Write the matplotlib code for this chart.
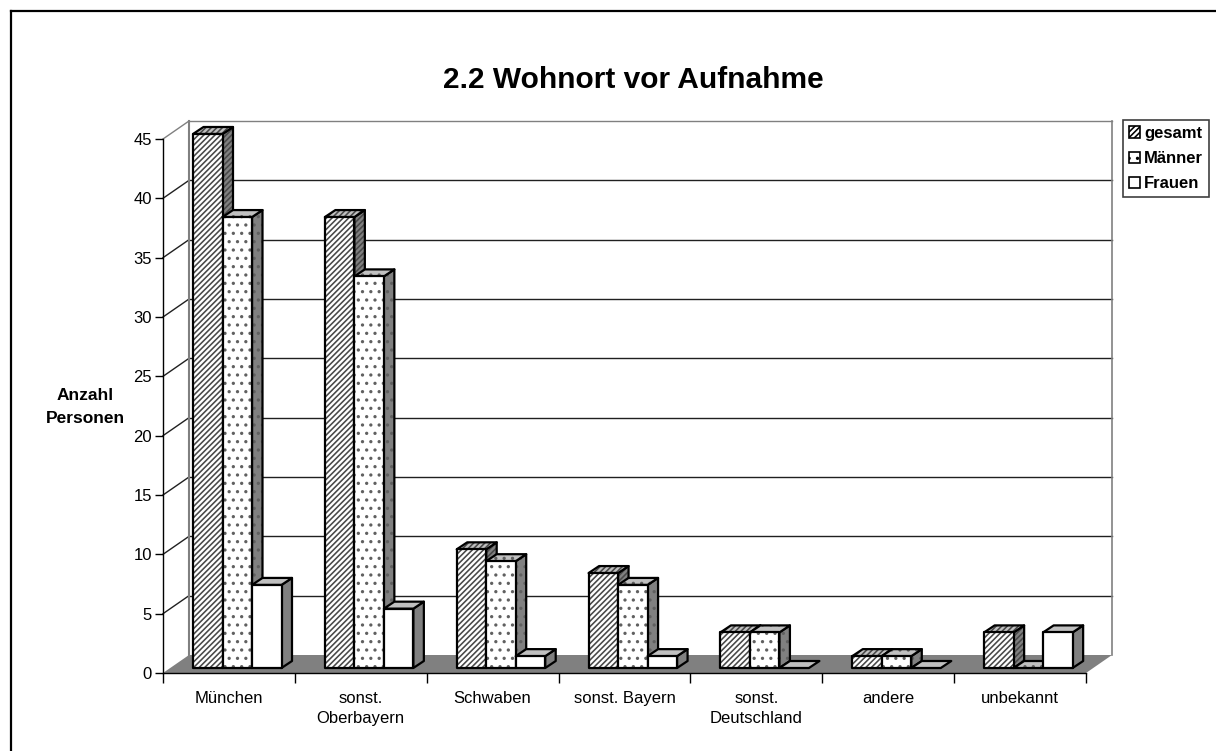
import matplotlib
matplotlib.use("Agg")
import matplotlib.pyplot as plt
from matplotlib.lines import Line2D
from matplotlib.patches import Patch, Polygon

plt.rcParams["font.family"] = ["Liberation Sans", "DejaVu Sans"]
plt.rcParams["hatch.linewidth"] = 1.15

# data
categories = ["München", "sonst.\nOberbayern", "Schwaben", "sonst. Bayern",
              "sonst.\nDeutschland", "andere", "unbekannt"]
gesamt = [45, 38, 10, 8, 3, 1, 3]
maenner = [38, 33, 9, 7, 3, 1, 0]
frauen = [7, 5, 1, 1, 0, 0, 3]
y_ticks = list(range(0, 50, 5))

series = [
    ("gesamt", gesamt, "//////", "#484848"),
    ("Männer", maenner, "..", "#606060"),
    ("Frauen", frauen, None, "black"),
]

fig = plt.figure(figsize=(12.16, 7.51), dpi=100)
W, H = 1216, 751
X0, X1, Y0, Y45 = 163, 1086, 673, 139
ax = fig.add_axes([X0 / W, 1 - Y0 / H, (X1 - X0) / W, (Y0 - Y45) / H])
ax.set_xlim(0, len(categories))
ax.set_ylim(0, 45)
ax.patch.set_visible(False)

# pixel lengths to data units
px_x = len(categories) / (X1 - X0)
px_y = 45 / (Y0 - Y45)

wall_dx, wall_dy = 26 * px_x, 18 * px_y  # depth of the whole chart
bar_dx, bar_dy = 10.5 * px_x, 7 * px_y  # depth of one bar
floor_dx, floor_dy = 7 * px_x, 5 * px_y  # bars stand a bit behind the front edge
bar_w = 29.5 * px_x
group_gap = 23 * px_x

n = len(categories)

# floor
ax.add_patch(Polygon([(0, 0), (n, 0), (n + wall_dx, wall_dy), (wall_dx, wall_dy)],
                     closed=True, fc="#808080", ec="none", clip_on=False, zorder=1))

# back wall, grid and side wall lines
for v in y_ticks:
    if v == 0:
        continue
    c = "#808080" if v == 45 else "#202020"
    ax.plot([0, wall_dx], [v, v + wall_dy], color=c, lw=1, clip_on=False, zorder=1)
    ax.plot([wall_dx, n + wall_dx], [v + wall_dy, v + wall_dy], color=c, lw=1,
            clip_on=False, zorder=1)
ax.plot([wall_dx, wall_dx], [wall_dy, 45 + wall_dy], color="#808080", lw=1.5,
        clip_on=False, zorder=1)
ax.plot([n + wall_dx, n + wall_dx], [wall_dy, 45 + wall_dy], color="#808080", lw=1.2,
        clip_on=False, zorder=1)


def face(points, fc, hatch, hatch_color, z):
    # hatch goes first in its own colour, the black outline over it
    ax.add_patch(Polygon(points, closed=True, fc=fc, ec=hatch_color, lw=0, hatch=hatch,
                         clip_on=False, zorder=z))
    ax.add_patch(Polygon(points, closed=True, fc="none", ec="black", lw=1.6,
                         joinstyle="round", clip_on=False, zorder=z))


def draw_bar(x, v, hatch, hatch_color, z):
    y = floor_dy
    side = [(x + bar_w, y), (x + bar_w + bar_dx, y + bar_dy),
            (x + bar_w + bar_dx, y + v + bar_dy), (x + bar_w, y + v)]
    top = [(x, y + v), (x + bar_w, y + v), (x + bar_w + bar_dx, y + v + bar_dy),
           (x + bar_dx, y + v + bar_dy)]
    front = [(x, y), (x + bar_w, y), (x + bar_w, y + v), (x, y + v)]
    if v > 0:
        face(side, "#808080", hatch, hatch_color, z)
    face(top, "#c0c0c0", hatch, hatch_color, z)
    if v > 0:
        face(front, "white", hatch, hatch_color, z)


for i in range(n):
    start = i + floor_dx + group_gap
    for j, (name, values, hatch, hatch_color) in enumerate(series):
        draw_bar(start + j * bar_w, values[i], hatch, hatch_color, 2 + j * 0.1)

# axes
for s in ["top", "right"]:
    ax.spines[s].set_visible(False)
ax.spines["left"].set_linewidth(1)
ax.spines["bottom"].set_linewidth(1)
ax.set_yticks(y_ticks)
ax.tick_params(axis="y", labelsize=12, length=6, width=1, pad=2)
ax.set_xticks(range(n + 1))
ax.set_xticklabels([])
ax.tick_params(axis="x", which="major", length=7, width=1)
ax.set_xticks([i + 0.5 for i in range(n)], minor=True)
ax.set_xticklabels(categories, minor=True, fontsize=12, linespacing=1.4)
ax.tick_params(axis="x", which="minor", length=0, pad=13)

# title and axis label
fig.text(633 / W, 1 - 80 / H, "2.2 Wohnort vor Aufnahme", fontsize=21.5,
         fontweight="bold", ha="center", va="center")
fig.text(85 / W, 1 - 407 / H, "Anzahl\nPersonen", fontsize=12.5, fontweight="bold",
         ha="center", va="center", linespacing=1.6)

# legend
handles = [Patch(fc="white", ec="black", lw=1.2, hatch=h, label=name)
           for name, _, h, _ in series]
leg = fig.legend(handles=handles, loc="upper left",
                 bbox_to_anchor=(1123 / W, 1 - 120 / H), frameon=True, fancybox=False,
                 edgecolor="#404040", framealpha=1, borderaxespad=0,
                 prop={"size": 12, "weight": "bold"}, handlelength=0.65,
                 handleheight=0.65, handletextpad=0.26, labelspacing=0.62,
                 borderpad=0.35)
leg.get_frame().set_linewidth(1.2)

# outer frame, only top and left are inside the picture
fig.add_artist(Line2D([10.5 / W, 1], [1 - 10.5 / H, 1 - 10.5 / H], color="black", lw=1.6))
fig.add_artist(Line2D([10.5 / W, 10.5 / W], [0, 1 - 10.5 / H], color="black", lw=1.6))

fig.savefig("out.png", dpi=100)
